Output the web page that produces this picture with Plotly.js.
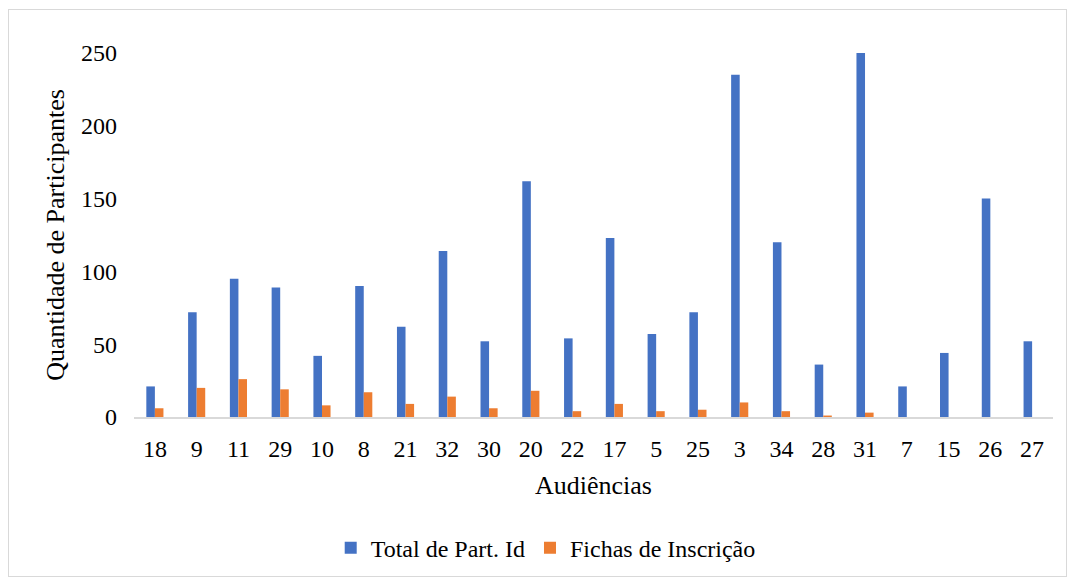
<!DOCTYPE html>
<html>
<head>
<meta charset="utf-8">
<script src="https://cdn.plot.ly/plotly-3.0.1.min.js"></script>
<style>
  html, body { margin: 0; padding: 0; background: #ffffff; }
  #wrap { position: relative; width: 1072px; height: 582px; }
  #chart { width: 1072px; height: 582px; }
  #frame { position: absolute; left: 8px; top: 9px; width: 1059px; height: 568px;
           border: 1px solid #d9d9d9; pointer-events: none; box-sizing: border-box; }
</style>
</head>
<body>
<div id="wrap">
  <div id="chart"></div>
  <div id="frame"></div>
</div>
<script>
// Hearings (audiências) and participant counts
const audiencias = ['18','9','11','29','10','8','21','32','30','20','22','17','5','25','3','34','28','31','7','15','26','27'];
const totalPartId = [21, 72, 95, 89, 42, 90, 62, 114, 52, 162, 54, 123, 57, 72, 235, 120, 36, 250, 21, 44, 150, 52];
const fichasInscricao = [6, 20, 26, 19, 8, 17, 9, 14, 6, 18, 4, 9, 4, 5, 10, 4, 1, 3, 0, 0, 0, 0];
const yTicks = [0, 50, 100, 150, 200, 250];

const font = 'Liberation Serif, Times New Roman, serif';

const traces = [
  {
    type: 'bar', name: 'Total de Part. Id',
    x: audiencias, y: totalPartId,
    marker: { color: '#4472c4' }
  },
  {
    type: 'bar', name: 'Fichas de Inscrição',
    x: audiencias, y: fichasInscricao,
    marker: { color: '#ed7d31' }
  }
];

const layout = {
  width: 1072, height: 582,
  margin: { l: 134, r: 19, t: 53, b: 162 },
  paper_bgcolor: '#ffffff', plot_bgcolor: '#ffffff',
  font: { family: font, color: '#000000', size: 24 },
  barmode: 'group', bargap: 0.59, bargroupgap: 0,
  showlegend: true,
  legend: {
    orientation: 'h', x: 0.448, xanchor: 'center', y: -0.36, yanchor: 'middle',
    font: { family: font, size: 24, color: '#000000' },
    itemwidth: 30, tracegroupgap: 0
  },
  xaxis: {
    type: 'category',
    showgrid: false, zeroline: false,
    showline: true, linecolor: '#d9d9d9', linewidth: 1.5,
    ticks: '', ticklabelstandoff: 10,
    tickfont: { family: font, size: 24, color: '#000000' },
    title: { text: 'Audiências', font: { family: font, size: 26, color: '#000000' }, standoff: 14 }
  },
  yaxis: {
    range: [0, 250],
    tickvals: yTicks,
    showgrid: false, zeroline: false, showline: false,
    ticks: '', ticklabelstandoff: 16,
    tickfont: { family: font, size: 24, color: '#000000' },
    title: { text: 'Quantidade de Participantes', font: { family: font, size: 26, color: '#000000' }, standoff: 8 }
  }
};

Plotly.newPlot('chart', traces, layout, { displayModeBar: false, staticPlot: true });
</script>
</body>
</html>
